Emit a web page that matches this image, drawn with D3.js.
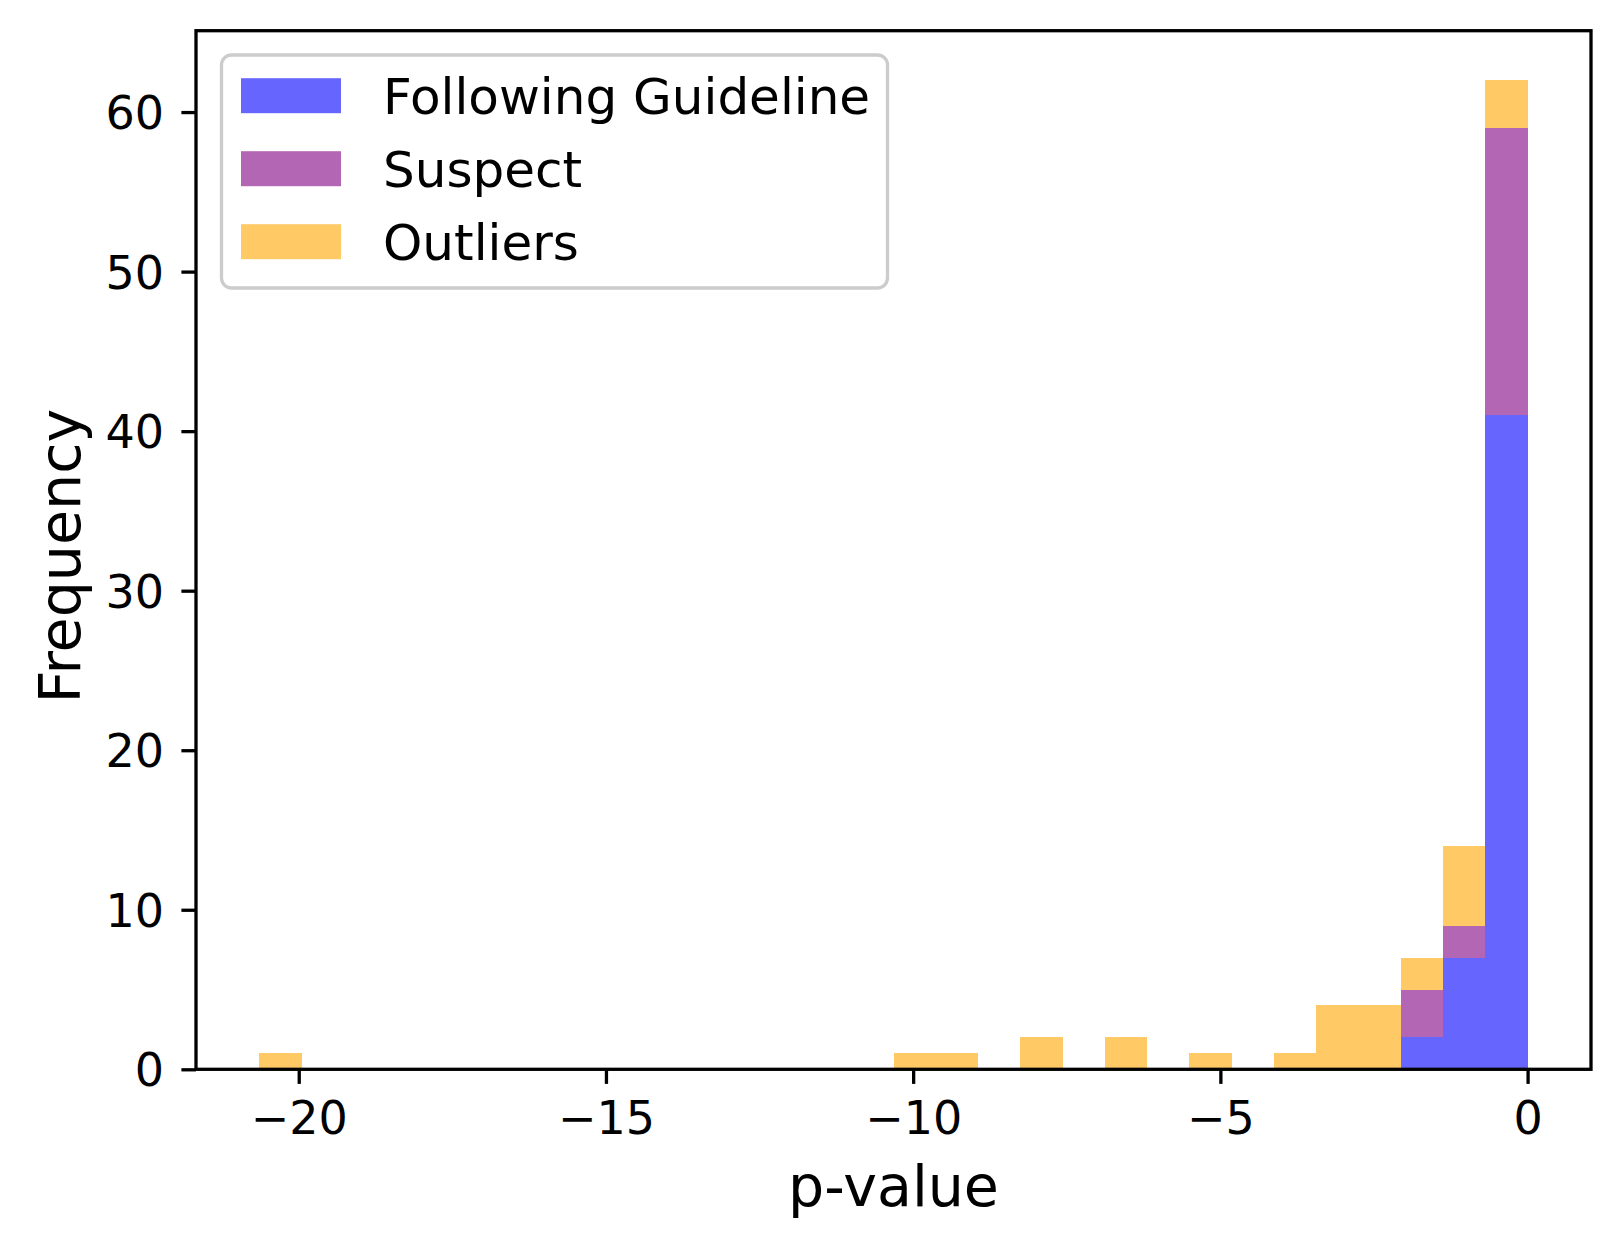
<!DOCTYPE html>
<html>
<head>
<meta charset="utf-8">
<script src="https://cdn.jsdelivr.net/npm/d3@7"></script>
<style>
  body { margin: 0; background: #fff; }
  text { font-family: "DejaVu Sans", sans-serif; fill: #000; }
</style>
</head>
<body>
<div id="chart"></div>
<script>
// histogram of p-values, 30 bins between binMin and binMax
let binMin = -20.64,
    binMax = 0,
    nBins = 30;

let seriesNames = ["Following Guideline", "Suspect", "Outliers"];
let seriesColors = ["blue", "purple", "orange"];

// counts per bin (left to right)
let following = [0,0,0,0,0,0,0,0,0,0, 0,0,0,0,0,0,0,0,0,0, 0,0,0,0,0,0,0,2,7,41];
let suspect   = [0,0,0,0,0,0,0,0,0,0, 0,0,0,0,0,0,0,0,0,0, 0,0,0,0,0,0,0,3,2,18];
let outliers  = [1,0,0,0,0,0,0,0,0,0, 0,0,0,0,0,1,1,0,2,0, 2,0,1,0,1,4,4,2,5,3];

let xTicks = [-20, -15, -10, -5, 0];
let yTicks = [0, 10, 20, 30, 40, 50, 60];

let W = 1621, H = 1250;
let plot = {left: 196, right: 1591, top: 30.7, bottom: 1069.3};
let lw = 3.3, tickLen = 14.6;

let binW = (binMax - binMin) / nBins;
let rows = d3.range(nBins).map(function (i) {
  return {x0: binMin + i * binW, x1: binMin + (i + 1) * binW,
          f: following[i], s: suspect[i], o: outliers[i]};
});

let stacked = d3.stack().keys(["f", "s", "o"])(rows);
let maxTotal = d3.max(rows, function (d) { return d.f + d.s + d.o; });

let span = binMax - binMin;
let x = d3.scaleLinear()
  .domain([binMin - 0.05 * span, binMax + 0.05 * span])
  .range([plot.left, plot.right]);
let y = d3.scaleLinear()
  .domain([0, maxTotal * 1.05])
  .range([plot.bottom, plot.top]);

let svg = d3.select("#chart").append("svg")
  .attr("width", W)
  .attr("height", H);

// bars
svg.append("g")
  .attr("shape-rendering", "crispEdges")
  .selectAll("g")
  .data(stacked)
  .join("g")
  .attr("fill", function (d, i) { return seriesColors[i]; })
  .attr("fill-opacity", 0.6)
  .selectAll("rect")
  .data(function (d) { return d.filter(function (p) { return p[1] > p[0]; }); })
  .join("rect")
  .attr("x", function (d) { return x(d.data.x0); })
  .attr("width", function (d) { return x(d.data.x1) - x(d.data.x0); })
  .attr("y", function (d) { return y(d[1]); })
  .attr("height", function (d) { return y(d[0]) - y(d[1]); });

let fmt = function (v) { return v < 0 ? "\u2212" + Math.abs(v) : String(v); };

// x axis
let gx = svg.append("g")
  .attr("transform", "translate(0," + plot.bottom + ")")
  .call(d3.axisBottom(x).tickValues(xTicks).tickFormat(fmt)
    .tickSize(tickLen).tickPadding(17.4));
gx.select(".domain").remove();
gx.selectAll("line").attr("stroke", "#000").attr("stroke-width", lw);
gx.selectAll("text").attr("font-size", 46).attr("font-family", "DejaVu Sans");

// y axis
let gy = svg.append("g")
  .attr("transform", "translate(" + plot.left + ",0)")
  .call(d3.axisLeft(y).tickValues(yTicks).tickFormat(fmt)
    .tickSize(tickLen).tickPadding(17.4));
gy.select(".domain").remove();
gy.selectAll("line").attr("stroke", "#000").attr("stroke-width", lw);
gy.selectAll("text").attr("font-size", 46).attr("font-family", "DejaVu Sans")
  .attr("dy", "0.36em");

// frame
svg.append("rect")
  .attr("x", plot.left).attr("y", plot.top)
  .attr("width", plot.right - plot.left)
  .attr("height", plot.bottom - plot.top)
  .attr("fill", "none").attr("stroke", "#000").attr("stroke-width", lw);

// axis labels
svg.append("text")
  .attr("x", (plot.left + plot.right) / 2).attr("y", 1206)
  .attr("text-anchor", "middle").attr("font-size", 57)
  .text("p-value");
svg.append("text")
  .attr("transform", "translate(80," + ((plot.top + plot.bottom) / 2 + 6) + ") rotate(-90)")
  .attr("text-anchor", "middle").attr("font-size", 57)
  .text("Frequency");

// legend
let lg = svg.append("g");
lg.append("rect")
  .attr("x", 221.5).attr("y", 55).attr("width", 666).attr("height", 233)
  .attr("rx", 10).attr("ry", 10)
  .attr("fill", "#fff").attr("fill-opacity", 0.8)
  .attr("stroke", "#cccccc").attr("stroke-width", lw);
let item = lg.selectAll("g.item")
  .data(seriesNames)
  .join("g")
  .attr("class", "item")
  .attr("transform", function (d, i) { return "translate(0," + (95.7 + i * 73) + ")"; });
item.append("rect")
  .attr("x", 241).attr("y", -17.5).attr("width", 100).attr("height", 35)
  .attr("fill", function (d, i) { return seriesColors[i]; })
  .attr("fill-opacity", 0.6);
item.append("text")
  .attr("x", 383).attr("dy", "0.36em").attr("font-size", 50)
  .text(function (d) { return d; });
</script>
</body>
</html>
